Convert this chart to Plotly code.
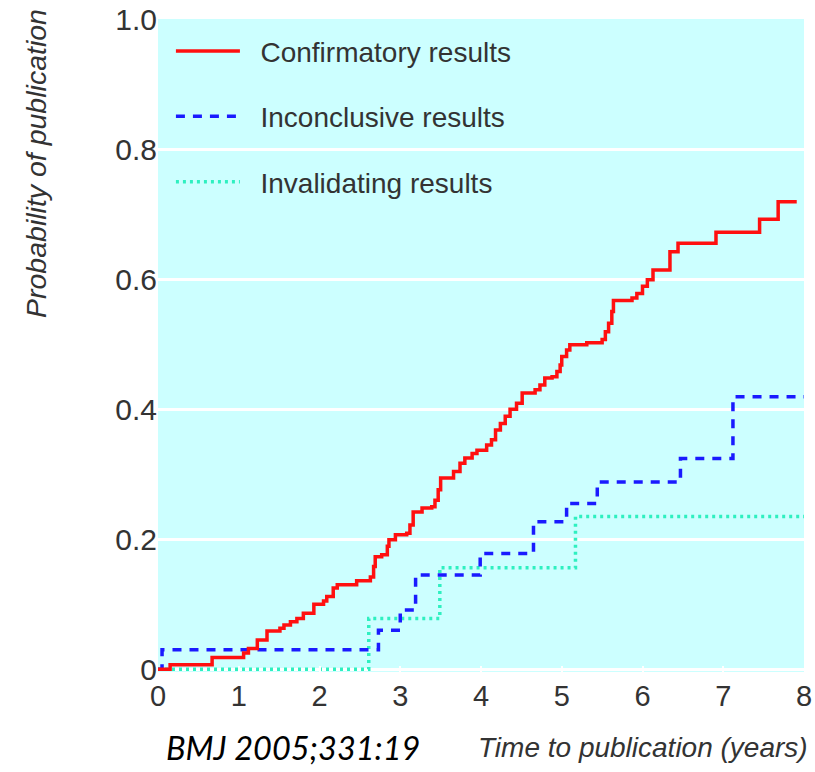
import plotly.graph_objects as go

# ---- data ----
conf_t = [0, 0.15, 0.67, 1.06, 1.12, 1.23, 1.35, 1.51, 1.56, 1.64, 1.72, 1.80, 1.93, 2.05, 2.09,
          2.17, 2.22, 2.46, 2.63, 2.67, 2.69, 2.77, 2.84, 2.86, 2.94, 3.08, 3.12, 3.16, 3.27,
          3.39, 3.43, 3.47, 3.50, 3.66, 3.74, 3.80, 3.89, 3.95, 4.07, 4.13, 4.18, 4.24, 4.30,
          4.36, 4.44, 4.51, 4.67, 4.73, 4.79, 4.88, 4.94, 4.98, 5.00, 5.06, 5.10, 5.31, 5.50,
          5.54, 5.58, 5.62, 5.64, 5.87, 5.93, 6.00, 6.06, 6.13, 6.34, 6.44, 6.91, 7.45, 7.68, 7.91]
conf_p = [0, 0.007, 0.018, 0.025, 0.032, 0.045, 0.059, 0.063, 0.068, 0.073, 0.078, 0.086, 0.100,
          0.105, 0.112, 0.125, 0.130, 0.136, 0.142, 0.158, 0.173, 0.176, 0.189, 0.199, 0.207,
          0.209, 0.222, 0.242, 0.248, 0.250, 0.260, 0.276, 0.294, 0.304, 0.317, 0.325, 0.332,
          0.337, 0.345, 0.353, 0.368, 0.378, 0.389, 0.400, 0.409, 0.425, 0.430, 0.437, 0.448,
          0.450, 0.458, 0.468, 0.481, 0.491, 0.499, 0.502, 0.507, 0.519, 0.532, 0.550, 0.567,
          0.571, 0.578, 0.589, 0.599, 0.614, 0.642, 0.655, 0.672, 0.692, 0.719, 0.719]

incon_t = [0, 0.05, 2.73, 3.00, 3.19, 3.99, 4.65, 5.06, 5.44, 6.47, 7.12, 8.0]
incon_p = [0, 0.030, 0.060, 0.091, 0.145, 0.178, 0.227, 0.255, 0.288, 0.324, 0.419, 0.419]

inval_t = [0, 2.61, 3.49, 5.17, 8.0]
inval_p = [0, 0.078, 0.156, 0.235, 0.235]

series_names = ["Confirmatory results", "Inconclusive results", "Invalidating results"]

x_ticks = [0, 1, 2, 3, 4, 5, 6, 7, 8]
y_ticks = [0, 0.2, 0.4, 0.6, 0.8, 1.0]
y_tick_text = ["0", "0.2", "0.4", "0.6", "0.8", "1.0"]

NARROW = "Liberation Sans Narrow, Arial Narrow, Liberation Sans, Arial, sans-serif"
GREY = "#333333"
PAD = "\u00a0\u00a0"

fig = go.Figure()
fig.add_trace(go.Scatter(x=inval_t, y=inval_p, mode="lines", line_shape="hv",
                         name=PAD + series_names[2], legendrank=3, legendgroup="c",
                         line=dict(color="#2ef0c0", width=3.5, dash="3px,4px")))
fig.add_trace(go.Scatter(x=incon_t, y=incon_p, mode="lines", line_shape="hv",
                         name=PAD + series_names[1], legendrank=2, legendgroup="b",
                         line=dict(color="#1a1aff", width=3.5, dash="9px,8px")))
fig.add_trace(go.Scatter(x=conf_t, y=conf_p, mode="lines", line_shape="hv",
                         name=PAD + series_names[0], legendrank=1, legendgroup="a",
                         line=dict(color="#ff1010", width=3.5)))

fig.update_layout(
    width=815, height=772,
    margin=dict(l=158, r=11, t=19, b=100, autoexpand=False),
    paper_bgcolor="white",
    plot_bgcolor="#ccffff",
    font=dict(family=NARROW, size=28, color=GREY),
    showlegend=True,
    legend=dict(x=0.02, y=0.989, xanchor="left", yanchor="top",
                bgcolor="rgba(0,0,0,0)", itemwidth=64, tracegroupgap=26,
                font=dict(family=NARROW, size=28, color=GREY)),
    xaxis=dict(range=[0, 8], tickvals=x_ticks, showgrid=False, zeroline=False,
               automargin=False,
               ticks="inside", ticklen=6, tickwidth=2, tickcolor="white",
               ticklabelstandoff=4, showline=False,
               tickfont=dict(family=NARROW, size=29, color=GREY)),
    yaxis=dict(range=[-0.0042, 1.0], tickvals=y_ticks, ticktext=y_tick_text,
               automargin=False,
               showgrid=True, gridcolor="white", gridwidth=3, zeroline=False,
               ticks="", showline=False,
               tickfont=dict(family=NARROW, size=30, color=GREY)),
    annotations=[
        dict(text="<i>Time to publication (years)</i>", xref="paper", yref="paper",
             x=1.009, y=-0.115, xanchor="right", yanchor="middle", showarrow=False,
             font=dict(family=NARROW, size=28, color=GREY)),
        dict(text="<i>Probability of publication</i>", xref="paper", yref="paper",
             x=-0.19, y=1.018, xanchor="center", yanchor="top", textangle=-90,
             showarrow=False, font=dict(family=NARROW, size=28.5, color=GREY)),
        dict(text="<i>BMJ 2005;331:19</i>", xref="paper", yref="paper",
             x=0.01, y=-0.115, xanchor="left", yanchor="middle", showarrow=False,
             font=dict(family="Lato, Open Sans, sans-serif", size=32.5, color="black")),
    ],
)

fig.write_html("out.html")
